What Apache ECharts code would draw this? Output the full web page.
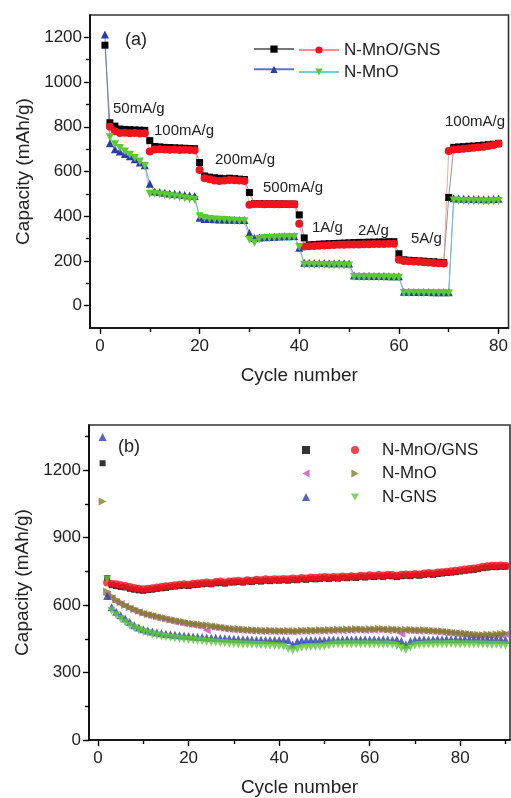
<!DOCTYPE html>
<html><head><meta charset="utf-8">
<script src="https://cdn.jsdelivr.net/npm/echarts@6/dist/echarts.min.js"></script>
<style>html,body{margin:0;padding:0;background:#fff}#c{width:511px;height:798px}</style>
</head><body><div id="c"></div>
<script>
// ---------- Panel (a): rate capability, cycles 1..80 ----------
const aBlack = [1165,818,803,790,788,787,786,785,784,738,
  712,710,708,707,706,705,704,703,702,640,
  580,575,572,570,568,570,568,566,564,506,
  456,456,455,455,455,455,454,454,454,406,
  303,272,273,275,276,277,278,279,280,281,
  282,283,283,284,284,285,285,286,286,232,
  205,203,202,200,199,197,196,194,192,484,
  708,710,711,713,714,716,718,720,722,726];
const aRed = [null,800,780,772,773,771,772,770,771,689,
  698,700,698,697,698,696,697,696,695,607,
  570,565,560,558,560,562,561,560,558,451,
  455,455,454,455,454,454,455,454,453,366,
  265,266,267,268,269,270,271,272,272,273,
  274,274,275,275,276,276,276,277,277,205,
  200,199,197,196,194,193,191,190,189,692,
  698,700,702,704,706,709,711,714,718,724];
const aBlue = [1213,726,700,690,678,668,655,640,628,545,
  510,508,505,502,500,498,495,493,490,393,
  388,387,386,385,385,384,384,383,383,325,
  302,305,306,307,308,309,310,310,311,259,
  192,192,191,191,191,190,190,190,190,189,
  135,134,134,134,133,133,133,132,132,132,
  62,62,61,61,61,61,60,60,60,60,
  480,479,478,478,477,477,476,476,477,478];
const aGreen = [null,753,722,705,690,675,660,645,625,500,
  500,497,495,490,488,485,480,477,474,400,
  392,388,385,384,383,381,380,379,378,295,
  281,298,302,303,304,305,306,306,307,262,
  183,183,182,182,182,181,181,181,180,180,
  128,128,127,127,127,126,126,126,125,125,
  57,57,56,56,56,56,55,55,55,55,
  470,469,468,468,467,467,466,466,467,468];
const aXLabels = [0,20,40,60,80];
const aXMinor = [10,30,50,70];
const aYLabels = [0,200,400,600,800,1000,1200];
const aYMinor = [100,300,500,700,900,1100];
const aRateLabels = ['50mA/g','100mA/g','200mA/g','500mA/g','1A/g','2A/g','5A/g','100mA/g'];

// ---------- Panel (b): cycling, cycles 1..90 ----------
const bBlack = [1230,720,688,684,680,678,672,668,665,663,
  666,668,672,674,676,680,682,684,686,684,
  688,690,692,694,692,696,698,695,700,700,
  702,700,704,702,706,704,708,706,709,708,
  710,708,712,710,714,712,716,714,716,718,
  716,719,717,721,719,722,720,724,722,726,
  724,727,725,729,727,724,728,730,728,732,
  730,734,736,734,738,740,742,744,746,749,
  752,754,756,759,764,766,769,768,770,770];
const bRed = [null,700,695,692,688,685,680,676,672,670,
  672,675,678,680,683,685,688,690,692,690,
  694,696,698,700,697,702,704,700,705,706,
  708,705,710,708,712,710,714,712,715,713,
  716,714,718,716,720,718,722,720,722,724,
  722,725,723,727,725,728,726,730,728,732,
  730,733,731,735,733,730,734,736,734,738,
  736,740,742,740,744,746,748,750,752,755,
  758,760,762,765,770,772,775,774,776,775];
const bMagenta = [null,645,630,615,605,595,585,575,568,560,
  555,550,545,540,536,530,526,522,518,515,
  512,508,505,488,503,500,498,495,492,490,
  490,488,487,486,485,484,483,484,482,483,
  482,483,481,482,484,483,485,484,486,485,
  487,486,488,487,489,488,490,489,488,490,
  489,491,490,488,489,487,472,488,487,486,
  485,486,484,483,482,480,478,476,474,472,
  470,468,466,465,464,466,465,467,468,470];
const bOlive = [1060,660,640,625,612,600,590,582,574,566,
  560,556,550,546,541,536,532,528,525,520,
  517,514,512,510,508,505,502,499,496,494,
  493,491,490,489,488,487,486,487,485,486,
  485,486,484,485,487,486,488,487,489,488,
  490,489,491,490,492,491,493,492,491,493,
  492,494,493,491,492,490,489,491,490,489,
  488,489,487,486,485,483,481,479,477,475,
  473,471,469,468,467,469,468,470,471,473];
const bBlue = [1347,640,590,570,555,540,525,510,500,492,
  487,482,478,475,472,470,468,466,464,462,
  460,459,458,456,455,454,453,452,451,450,
  449,448,448,447,446,446,445,445,444,444,
  444,443,425,438,442,443,444,443,444,445,
  446,447,446,447,448,447,448,447,448,447,
  448,447,448,447,446,447,440,425,440,446,
  447,448,447,448,449,448,449,448,449,448,
  449,448,449,448,447,448,447,448,447,446];
const bGreen = [null,715,575,555,538,522,508,497,488,480,
  474,469,465,461,458,455,452,450,447,445,
  443,441,439,437,435,433,431,430,428,427,
  426,425,424,423,422,421,420,419,418,417,
  414,405,398,404,410,412,413,414,415,416,
  420,424,425,424,426,425,426,425,426,424,
  425,424,423,424,422,418,408,400,412,420,
  422,423,424,425,426,425,426,427,426,425,
  426,425,424,425,424,423,422,423,421,420];
const bXLabels = [0,20,40,60,80];
const bXMinor = [10,30,50,70,90];
const bYLabels = [0,300,600,900,1200];
const bYMinor = [150,450,750,1050,1350];

const legendA = ['N-MnO/GNS','N-MnO'];
const legendB = ['N-MnO/GNS','N-MnO','N-GNS'];

function pts(arr){ const out=[]; arr.forEach((v,i)=>{ if(v!==null) out.push([i+1,v]); }); return out; }

const FONT = 'Liberation Sans, Arial, sans-serif';
const TXT = '#222';
const TRI_UP = 'triangle';
const TRI_DOWN = 'path://M0,0 L10,0 L5,9 Z';
const TRI_LEFT = 'path://M0,5 L9,0 L9,10 Z';
const TRI_RIGHT = 'path://M9,5 L0,0 L0,10 Z';

function majorX(grid,min,max,labels,gap){
  return {type:'value',gridIndex:grid,min:min,max:max,position:'bottom',
    name:'Cycle number',nameLocation:'middle',nameGap:gap,
    nameTextStyle:{fontFamily:FONT,fontSize:19,color:TXT},
    axisLine:{show:true,onZero:false,lineStyle:{color:'#000',width:1.6}},
    axisTick:{show:true,customValues:labels,length:6,lineStyle:{color:'#000',width:1.4}},
    axisLabel:{show:true,customValues:labels,margin:10,fontFamily:FONT,fontSize:17,color:TXT,formatter:v=>String(v)},
    splitLine:{show:false}};
}
function minorX(grid,min,max,minor){
  return {type:'value',gridIndex:grid,min:min,max:max,position:'bottom',
    axisLine:{show:false,onZero:false},
    axisTick:{show:true,customValues:minor,length:4,lineStyle:{color:'#000',width:1.4}},
    axisLabel:{show:false},splitLine:{show:false}};
}
function majorY(grid,min,max,labels){
  return {type:'value',gridIndex:grid,min:min,max:max,position:'left',
    name:'Capacity (mAh/g)',nameLocation:'middle',nameGap:50,
    nameTextStyle:{fontFamily:FONT,fontSize:19,color:TXT},
    axisLine:{show:true,onZero:false,lineStyle:{color:'#000',width:1.6}},
    axisTick:{show:true,customValues:labels,length:6,lineStyle:{color:'#000',width:1.4}},
    axisLabel:{show:true,customValues:labels,margin:8,fontFamily:FONT,fontSize:17,color:TXT,formatter:v=>String(v)},
    splitLine:{show:false}};
}
function minorY(grid,min,max,minor){
  return {type:'value',gridIndex:grid,min:min,max:max,position:'left',
    axisLine:{show:false,onZero:false},
    axisTick:{show:true,customValues:minor,length:4,lineStyle:{color:'#000',width:1.4}},
    axisLabel:{show:false},splitLine:{show:false}};
}

function lineSeries(name,data,symbol,size,color,lineColor){
  return {name:name,type:'line',xAxisIndex:0,yAxisIndex:0,data:pts(data),
    symbol:symbol,symbolSize:size,showSymbol:true,
    itemStyle:{color:color},lineStyle:{color:lineColor,width:0.8},
    emphasis:{disabled:true},animation:false,z:3};
}
function scatterSeries(name,data,symbol,size,color){
  return {name:name,type:'scatter',xAxisIndex:2,yAxisIndex:2,data:pts(data),
    symbol:symbol,symbolSize:size,
    itemStyle:{color:color},emphasis:{disabled:true},animation:false,z:3};
}

const rateText = (t,x,y)=>({type:'text',x:x,y:y,style:{text:t,fontFamily:FONT,fontSize:15,fill:TXT,textVerticalAlign:'middle'},z:10});

const chart = echarts.init(document.getElementById('c'),null,{renderer:'canvas'});
chart.setOption({
  backgroundColor:'#fff',
  animation:false,
  grid:[
    {left:90,top:15,width:422,height:313,show:true,borderColor:'#333',borderWidth:1.6},
    {left:89,top:425,width:421,height:317,show:true,borderColor:'#333',borderWidth:1.6}
  ],
  xAxis:[
    majorX(0,-2,82,aXLabels,38), minorX(0,-2,82,aXMinor),
    majorX(1,-2,91,bXLabels,38), minorX(1,-2,91,bXMinor)
  ],
  yAxis:[
    majorY(0,-100,1300,aYLabels), minorY(0,-100,1300,aYMinor),
    majorY(1,0,1400,bYLabels), minorY(1,0,1400,bYMinor)
  ],
  legend:[
    {data:['a1','a3'],left:253,top:45.5,padding:0,orient:'vertical',itemWidth:40,itemHeight:9,itemGap:13,
      formatter:()=>'',textStyle:{lineHeight:9},selectedMode:false},
    {data:['a2','a4'],left:298,top:41.5,padding:0,orient:'vertical',itemWidth:40,itemHeight:9,itemGap:5,
      formatter:(n)=>n==='a2'?legendA[0]:legendA[1],
      textStyle:{fontFamily:FONT,fontSize:17,color:TXT,lineHeight:9},selectedMode:false},
    {data:['b1','b3','b5'],left:302,top:446,padding:0,orient:'vertical',itemWidth:8,itemHeight:8,itemGap:15.5,
      formatter:()=>'',textStyle:{lineHeight:8},selectedMode:false},
    {data:['b2','b4','b6'],left:351,top:441.5,padding:0,orient:'vertical',itemWidth:8,itemHeight:8,itemGap:6.5,
      formatter:(n)=>'{s|}{t|'+(n==='b2'?legendB[0]:(n==='b4'?legendB[1]:legendB[2]))+'}',
      textStyle:{fontFamily:FONT,fontSize:17,color:TXT,lineHeight:8,
        rich:{s:{width:18,lineHeight:8},t:{fontFamily:FONT,fontSize:17,color:TXT,lineHeight:8}}},
      selectedMode:false}
  ],
  graphic:[
    {type:'text',x:125,y:40,style:{text:'(a)',fontFamily:FONT,fontSize:18,fill:TXT,textVerticalAlign:'middle'}},
    {type:'text',x:118,y:447,style:{text:'(b)',fontFamily:FONT,fontSize:18,fill:TXT,textVerticalAlign:'middle'}},
    rateText(aRateLabels[0],113,109),
    rateText(aRateLabels[1],154,131),
    rateText(aRateLabels[2],215,160),
    rateText(aRateLabels[3],263,188),
    rateText(aRateLabels[4],312,228),
    rateText(aRateLabels[5],358,231),
    rateText(aRateLabels[6],411,239),
    rateText(aRateLabels[7],445,122)
  ],
  series:[
    lineSeries('a1',aBlack,'rect',7,'#000','#777'),
    lineSeries('a2',aRed,'circle',8,'#f0141e','#f39090'),
    lineSeries('a3',aBlue,TRI_UP,8,'#2a3caa','#6070d0'),
    lineSeries('a4',aGreen,TRI_DOWN,8,'#5cc832','#70d0d0'),
    scatterSeries('b1',bBlack,'rect',6,'#000'),
    scatterSeries('b2',bRed,'circle',8,'#f0141e'),
    scatterSeries('b3',bMagenta,TRI_LEFT,8,'#c850c0'),
    scatterSeries('b4',bOlive,TRI_RIGHT,8,'#7f7f25'),
    scatterSeries('b5',bBlue,TRI_UP,8,'#2a3caa'),
    scatterSeries('b6',bGreen,TRI_DOWN,8,'#5ec83c')
  ]
});
</script></body></html>
